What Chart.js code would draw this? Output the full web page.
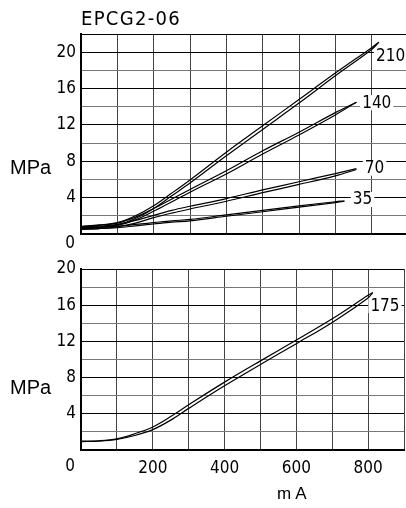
<!DOCTYPE html>
<html>
<head>
<meta charset="utf-8">
<script src="https://cdn.jsdelivr.net/npm/chart.js@4.4.0/dist/chart.umd.min.js"></script>
<style>
  html, body { margin: 0; padding: 0; background: #fff; overflow: hidden; }
  #wrap { position: relative; width: 406px; height: 508px; overflow: hidden; }
  .box { position: absolute; left: 0; width: 412px; }
  #top { top: 0; height: 250px; }
  #bot { top: 250px; height: 258px; }
  .txt { position: absolute; color: #000; white-space: nowrap; line-height: 1; }
  .sans { font-family: "Liberation Sans", Arial, sans-serif; font-size: 20px; }
  .narrow { font-family: "Liberation Sans Narrow", "DejaVu Sans Condensed", "Roboto Condensed", "Liberation Sans", sans-serif; }
</style>
</head>
<body>
<div id="wrap">
  <div class="box" id="top"><canvas id="chartTop" width="412" height="250"></canvas></div>
  <div class="box" id="bot"><canvas id="chartBot" width="412" height="258"></canvas></div>
  <div class="txt narrow" style="left:81px;top:8px;font-size:20px;letter-spacing:1.3px;">EPCG2-06</div>
  <div class="txt sans" style="left:10px;top:157px;">MPa</div>
  <div class="txt sans" style="left:10px;top:377px;">MPa</div>
  <div class="txt sans" style="left:277px;top:485px;font-size:17px;letter-spacing:4px;">mA</div>
</div>
<script>
// top chart: pressure settings 210 / 140 / 70 / 35, each an up and a down sweep
const x210 = [0, 50, 100, 150, 200, 250, 300, 400, 500, 600, 700, 800, 820];
const p210Up = [0.6, 0.75, 1.0, 1.7, 2.8, 4.2, 5.6, 8.6, 11.5, 14.4, 17.4, 20.3, 21.1];
const p210Down = [0.85, 1.0, 1.25, 2.0, 3.1, 4.5, 5.95, 9.0, 11.9, 14.8, 17.7, 20.5, 21.1];

const x140 = [0, 50, 100, 150, 200, 250, 300, 400, 500, 600, 700, 758];
const p140Up = [0.55, 0.7, 0.95, 1.55, 2.5, 3.55, 4.6, 6.6, 8.8, 10.9, 13.1, 14.5];
const p140Down = [0.8, 0.95, 1.2, 1.85, 2.8, 3.85, 4.9, 6.95, 9.15, 11.2, 13.35, 14.5];

const x70 = [0, 50, 100, 150, 200, 250, 300, 400, 500, 600, 700, 758];
const p70Up = [0.5, 0.6, 0.8, 1.2, 1.8, 2.3, 2.75, 3.6, 4.55, 5.45, 6.4, 7.1];
const p70Down = [0.75, 0.85, 1.05, 1.5, 2.05, 2.6, 3.05, 3.9, 4.85, 5.75, 6.65, 7.2];

const x35 = [0, 50, 100, 150, 200, 250, 300, 400, 500, 600, 700, 725];
const p35Up = [0.55, 0.6, 0.7, 0.9, 1.1, 1.3, 1.45, 1.95, 2.45, 2.95, 3.45, 3.6];
const p35Down = [0.7, 0.75, 0.85, 1.05, 1.25, 1.45, 1.6, 2.1, 2.6, 3.1, 3.55, 3.65];

// bottom chart: 175
const x175 = [0, 50, 100, 150, 200, 250, 300, 400, 500, 600, 700, 800, 813];
const p175Up = [0.93, 0.98, 1.17, 1.6, 2.25, 3.3, 4.6, 7.1, 9.45, 11.75, 14.1, 16.8, 17.4];
const p175Down = [0.97, 1.02, 1.23, 1.8, 2.55, 3.7, 5.0, 7.5, 9.85, 12.15, 14.5, 17.1, 17.4];

// curve name labels and where they sit (mA, MPa)
const topNames = ['210', '140', '70', '35'];
const topNameX = [852, 814, 808, 775];
const topNameY = [19.6, 14.5, 7.3, 3.85];
const botNames = ['175'];
const botNameX = [847];
const botNameY = [16.0];

const xTickLabels = [200, 400, 600, 800];
const yTickLabels = [4, 8, 12, 16, 20];

const NARROW = '"Liberation Sans Narrow", "DejaVu Sans Condensed", "Roboto Condensed", "Liberation Sans", sans-serif';
const TICK_FONT = { family: NARROW, size: 17 };

function pts(xs, ys) { return xs.map((v, i) => ({ x: v, y: ys[i] })); }
function curve(xs, ys) {
  return { data: pts(xs, ys), borderColor: '#000', borderWidth: 1.2, pointRadius: 0,
           tension: 0.35, fill: false };
}

const markLabels = {
  id: 'markLabels',
  afterDatasetsDraw(chart, args, opts) {
    const { ctx } = chart;
    const x = chart.scales.x, y = chart.scales.y;
    ctx.save();
    ctx.font = '17px ' + NARROW;
    ctx.textAlign = 'center';
    ctx.textBaseline = 'middle';
    opts.names.forEach((name, i) => {
      const px = x.getPixelForValue(opts.xs[i]);
      const py = y.getPixelForValue(opts.ys[i]);
      const w = ctx.measureText(name).width + 4;
      ctx.fillStyle = '#fff';
      ctx.fillRect(px - w / 2, py - 7, w, 15);
      ctx.fillStyle = '#000';
      ctx.fillText(name, px, py + 1);
    });
    ctx.textAlign = 'right';
    ctx.textBaseline = 'top';
    ctx.fillText('0', x.left - 6, y.bottom + opts.zeroGap);
    ctx.restore();
  }
};

function makeChart(id, datasets, yMax, showX, xHeight, padTop, labels) {
  return new Chart(document.getElementById(id), {
    type: 'line',
    data: { datasets },
    plugins: [markLabels],
    options: {
      responsive: false,
      animation: false,
      layout: { padding: { top: padTop, right: 4, left: 0, bottom: 0 } },
      plugins: { legend: { display: false }, tooltip: { enabled: false }, markLabels: labels },
      scales: {
        x: {
          type: 'linear', min: 0, max: 900,
          border: { color: '#000', width: 2 },
          grid: { color: '#444', lineWidth: 1, drawTicks: false },
          ticks: {
            display: showX, stepSize: 100, autoSkip: false, maxRotation: 0, padding: 8,
            color: '#000', font: TICK_FONT,
            callback: v => xTickLabels.includes(v) ? String(v) : ''
          },
          afterFit(s) { s.height = xHeight; }
        },
        y: {
          min: 0, max: yMax,
          border: { color: '#000', width: 2 },
          grid: {
            drawTicks: false, lineWidth: 1,
            color: c => (c.tick && c.tick.value % 4 === 0) || (c.tick && c.tick.value === yMax) ? '#000' : '#777'
          },
          ticks: {
            stepSize: 2, autoSkip: false, padding: 5, color: '#000', font: TICK_FONT,
            callback: v => yTickLabels.includes(v) ? String(v) : ''
          },
          afterFit(s) { s.width = 81; }
        }
      }
    }
  });
}

makeChart('chartTop', [
  curve(x210, p210Up), curve(x210, p210Down),
  curve(x140, p140Up), curve(x140, p140Down),
  curve(x70, p70Up), curve(x70, p70Down),
  curve(x35, p35Up), curve(x35, p35Down)
], 22, false, 16, 34, { names: topNames, xs: topNameX, ys: topNameY, zeroGap: 1 });

makeChart('chartBot', [
  curve(x175, p175Up), curve(x175, p175Down)
], 20, true, 58, 19, { names: botNames, xs: botNameX, ys: botNameY, zeroGap: 8 });
</script>
</body>
</html>
